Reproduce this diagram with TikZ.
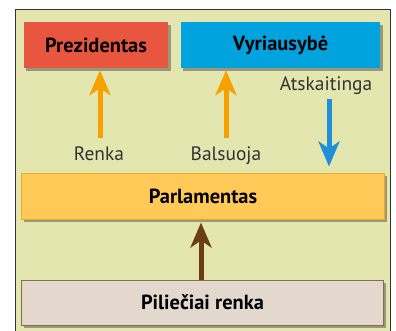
\documentclass[tikz,border=0pt]{standalone}
\usepackage{fontspec}
\setmainfont{PT Sans}
\usetikzlibrary{arrows.meta,shadows}
\definecolor{panelfill}{HTML}{E3E6AE}
\definecolor{panelline}{HTML}{333333}
\definecolor{prezred}{HTML}{E9563F}
\definecolor{vyrblue}{HTML}{00A3DD}
\definecolor{arrorange}{HTML}{F7A100}
\definecolor{arrblue}{HTML}{1E8FD8}
\definecolor{parlfill}{HTML}{FFC957}
\definecolor{parlline}{HTML}{F4A81C}
\definecolor{arrbrown}{HTML}{6B3E16}
\definecolor{pilfill}{HTML}{E3D8CD}
\definecolor{pilline}{HTML}{8C6B46}
\definecolor{labtext}{HTML}{333333}
\tikzset{
  box/.style={rectangle, inner sep=0pt, font=\fontsize{20.5}{24}\selectfont\bfseries, text=black,
    drop shadow={shadow xshift=2.5bp, shadow yshift=-2.5bp, opacity=0.5, fill=black!70}},
  lab/.style={inner sep=1bp, font=\fontsize{19.5}{23}\selectfont, text=labtext},
  bigarrow/.style={line width=5bp, -{Stealth[length=25bp,width=21bp,inset=7bp]}},
}
\begin{document}
\begin{tikzpicture}[x=1bp,y=-1bp]
\useasboundingbox (0,0) rectangle (396,331);
\fill[white] (0,0) rectangle (396,331);
\draw[panelline, fill=panelfill, line width=1bp] (15,9.5) -- (390,9.5) -- (390,340) -- (15,340) -- cycle;
\node[box, fill=prezred, minimum width=144bp, minimum height=46bp] (prez) at (96,45) {Prezidentas};
\node[box, fill=vyrblue, minimum width=199bp, minimum height=46bp] (vyr) at (280.5,45) {Vyriausybė};
\node[box, fill=parlfill, draw=parlline, line width=1bp, minimum width=362bp, minimum height=46bp] (parl) at (203,196) {Parlamentas};
\node[box, fill=pilfill, draw=pilline, line width=1bp, minimum width=361bp, minimum height=45bp] (pil) at (202.5,302.5) {Piliečiai renka};
\node[lab, anchor=base] (renka) at (99,160.5) {Renka};
\node[lab, anchor=base] (bals) at (226,160.5) {Balsuoja};
\node[lab, anchor=base] (atsk) at (326,90.5) {Atskaitinga};
\draw[bigarrow, arrorange] ([xshift=1bp,yshift=8bp]renka.north) -- ([xshift=1bp,yshift=-2bp]renka.north |- prez.south);
\draw[bigarrow, arrorange] ([yshift=8bp]bals.north) -- ([yshift=-2bp]bals.north |- vyr.south);
\draw[bigarrow, arrblue] ([xshift=3bp,yshift=-3bp]atsk.south) -- ([xshift=3bp,yshift=6bp]atsk.south |- parl.north);
\draw[bigarrow, arrbrown] ([xshift=-1.5bp]pil.north) -- ([xshift=-1.5bp,yshift=-3bp]pil.north |- parl.south);
\end{tikzpicture}
\end{document}
